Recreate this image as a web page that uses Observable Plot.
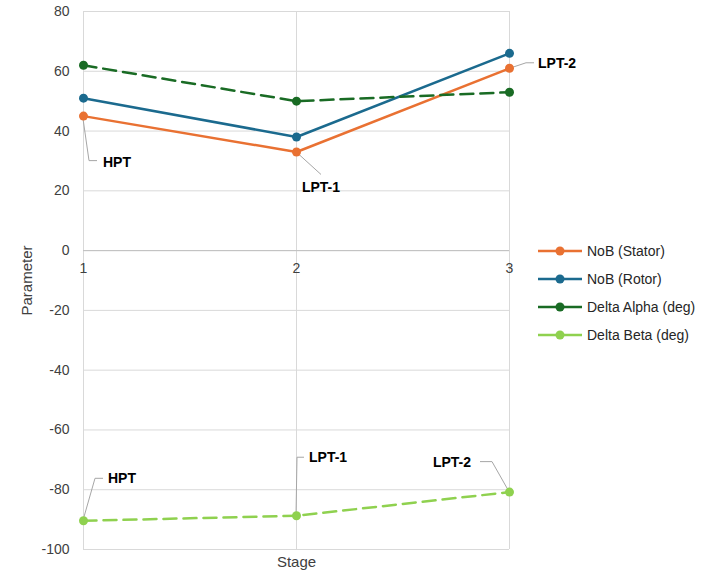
<!DOCTYPE html>
<html>
<head>
<meta charset="utf-8">
<script src="https://cdn.jsdelivr.net/npm/d3@7"></script>
<script src="https://cdn.jsdelivr.net/npm/@observablehq/plot@0.6"></script>
<style>
  html, body { margin: 0; padding: 0; background: #fff; }
  #wrap { position: relative; width: 701px; height: 570px; font-family: "Liberation Sans", Arial, sans-serif; }
  #legend { position: absolute; left: 538px; top: 237px; font-size: 14px; color: #262626; }
  .item { display: flex; align-items: center; height: 28px; }
  .item svg { margin-right: 5px; }
</style>
</head>
<body>
<div id="wrap"><div id="legend"></div></div>
<script>
// ---- data ----
const stages = [1, 2, 3];
const stageLabels = ["1", "2", "3"];
const stageNames = ["HPT", "LPT-1", "LPT-2"];
const seriesNames = ["NoB (Stator)", "NoB (Rotor)", "Delta Alpha (deg)", "Delta Beta (deg)"];
const nobStator = [45, 33, 61];
const nobRotor = [51, 38, 66];
const deltaAlpha = [62, 50, 53];
const deltaBeta = [-90.4, -88.7, -80.8];
const yTicks = [80, 60, 40, 20, 0, -20, -40, -60, -80, -100];
const xTitle = "Stage";
const yTitle = "Parameter";

// ---- styles ----
const colors = ["#E97132", "#1B6A8E", "#196B24", "#8FD14F"];
const dashes = [null, null, "13,7", "13,7"];
const seriesValues = [nobStator, nobRotor, deltaAlpha, deltaBeta];

const rows = [];
seriesValues.forEach((vals, si) => vals.forEach((v, i) => rows.push({series: seriesNames[si], stage: stages[i], value: v})));

// label layout (pixel offsets from the data point) — styling only
const labelLayout = [
  {si: 0, i: 0, dx: 20, dy: 46, anchor: "start", path: [[0, 3], [6, 45], [14, 45]]},
  {si: 0, i: 1, dx: 25, dy: 36, anchor: "middle", path: [[3, 3], [25, 23]]},
  {si: 0, i: 2, dx: 29, dy: -5, anchor: "start", path: [[2, 0], [17, -5], [25, -5]]},
  {si: 3, i: 0, dx: 25, dy: -42, anchor: "start", path: [[0, 0], [12, -42], [20, -42]]},
  {si: 3, i: 1, dx: 13, dy: -58, anchor: "start", path: [[0, 0], [1, -58], [8, -58]]},
  {si: 3, i: 2, dx: -38, dy: -30, anchor: "end", path: [[0, 0], [-17, -30], [-29, -30]]}
];

const labelData = labelLayout.map(l => ({stage: stages[l.i], value: seriesValues[l.si][l.i], text: stageNames[l.i], l}));

const leaders = (index, scales) => {
  const g = d3.create("svg:g").attr("fill", "none").attr("stroke", "#a6a6a6").attr("stroke-width", 1);
  for (const d of labelData) {
    const px = scales.x(d.stage), py = scales.y(d.value);
    g.append("path").attr("d", d3.line()(d.l.path.map(([a, b]) => [px + a, py + b])));
  }
  return g.node();
};

const font = '"Liberation Sans", Arial, sans-serif';
const yDomain = [-100, 80];
const xDomain = [1, 3];

const chart = Plot.plot({
  width: 701,
  height: 570,
  marginLeft: 83,
  marginRight: 192,
  marginTop: 11,
  marginBottom: 21,
  style: {fontFamily: font, fontSize: "14px", color: "#404040", background: "#fff"},
  x: {domain: xDomain, axis: null},
  y: {domain: yDomain, axis: null},
  marks: [
    Plot.gridY(yTicks, {stroke: "#d9d9d9", strokeOpacity: 1}),
    Plot.gridX(stages, {stroke: "#d9d9d9", strokeOpacity: 1}),
    Plot.ruleY([0], {stroke: "#bfbfbf"}),
    Plot.text(yTicks, {x: xDomain[0], y: d => d, text: d => String(d), textAnchor: "end", dx: -14, fontSize: 14, fill: "#404040"}),
    Plot.text(stages, {x: d => d, y: 0, text: (d, i) => stageLabels[i], dy: 18, fontSize: 14, fill: "#404040"}),
    Plot.text([xTitle], {x: (xDomain[0] + xDomain[1]) / 2, y: yDomain[0], text: d => d, dy: 13, fontSize: 15, fill: "#404040"}),
    Plot.text([yTitle], {x: xDomain[0], y: (yDomain[0] + yDomain[1]) / 2, text: d => d, dx: -56, rotate: -90, fontSize: 15, fill: "#404040"}),
    leaders,
    ...seriesNames.map((s, si) => Plot.line(rows.filter(r => r.series === s), {
      x: "stage", y: "value", stroke: colors[si], strokeWidth: 2.5, strokeDasharray: dashes[si]
    })),
    ...seriesNames.map((s, si) => Plot.dot(rows.filter(r => r.series === s), {
      x: "stage", y: "value", r: 4.5, fill: colors[si], stroke: "none"
    })),
    Plot.text(labelData, {
      x: "stage", y: "value", text: "text",
      render: (index, scales, values) => {
        const g = d3.create("svg:g").attr("font-weight", "bold").attr("font-size", 14).attr("fill", "#000");
        for (const i of index) {
          const d = labelData[i];
          g.append("text")
            .attr("x", values.x[i] + d.l.dx)
            .attr("y", values.y[i] + d.l.dy)
            .attr("dy", "0.35em")
            .attr("text-anchor", d.l.anchor)
            .text(d.text);
        }
        return g.node();
      }
    })
  ]
});

document.getElementById("wrap").prepend(chart);

// legend
const legend = d3.select("#legend");
seriesNames.forEach((s, si) => {
  const item = legend.append("div").attr("class", "item");
  const svg = item.append("svg").attr("width", 44).attr("height", 12);
  svg.append("line").attr("x1", 0).attr("x2", 44).attr("y1", 6).attr("y2", 6).attr("stroke", colors[si]).attr("stroke-width", 2.5);
  svg.append("circle").attr("cx", 22).attr("cy", 6).attr("r", 4.5).attr("fill", colors[si]);
  item.append("span").text(s);
});
</script>
</body>
</html>
